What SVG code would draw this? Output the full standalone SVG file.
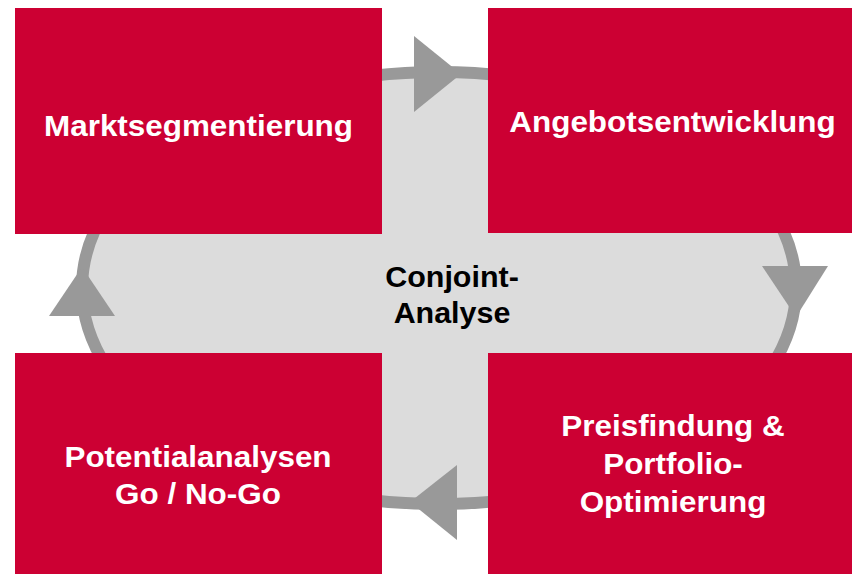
<svg xmlns="http://www.w3.org/2000/svg" width="852" height="574" viewBox="0 0 852 574">
<style>
.box{fill:#cc0033}
.lbl{font-family:"Liberation Sans",Arial,sans-serif;font-weight:bold;font-size:29.5px;fill:#ffffff;text-anchor:middle}
.ctr{font-family:"Liberation Sans",Arial,sans-serif;font-weight:bold;font-size:29px;fill:#000000;text-anchor:middle}
.arr{fill:#999999}
</style>
<rect width="852" height="574" fill="#ffffff"/>
<g id="cycle">
<ellipse cx="439" cy="288" rx="357" ry="216" fill="#dcdcdc" stroke="#999999" stroke-width="12"/>
</g>
<g id="connectors">
<polygon class="arr" points="414,36 414,112 461,74"/>
<polygon class="arr" points="762,266 828,266 796,317"/>
<polygon class="arr" points="457,465 457,540 410,502"/>
<polygon class="arr" points="49,316 115,316 82,267"/>
</g>
<g id="center">
<text class="ctr" transform="translate(452,287) scale(1.05,1)">Conjoint-</text>
<text class="ctr" transform="translate(452,323) scale(1.05,1)">Analyse</text>
</g>
<g id="marktsegmentierung">
<rect class="box" x="15" y="8" width="367" height="226"/>
<text class="lbl" transform="translate(198.5,136) scale(1.065,1)">Marktsegmentierung</text>
</g>
<g id="angebotsentwicklung">
<rect class="box" x="488" y="8" width="370" height="225"/>
<text class="lbl" transform="translate(672.5,132) scale(1.065,1)">Angebotsentwicklung</text>
</g>
<g id="preisfindung">
<rect class="box" x="488" y="353" width="370" height="225"/>
<text class="lbl" transform="translate(673,436) scale(1.065,1)">Preisfindung &amp;</text>
<text class="lbl" transform="translate(673,474) scale(1.065,1)">Portfolio-</text>
<text class="lbl" transform="translate(673,512) scale(1.065,1)">Optimierung</text>
</g>
<g id="potentialanalysen">
<rect class="box" x="15" y="353" width="367" height="225"/>
<text class="lbl" transform="translate(198,467) scale(1.065,1)">Potentialanalysen</text>
<text class="lbl" transform="translate(198,504) scale(1.065,1)">Go / No-Go</text>
</g>
</svg>
